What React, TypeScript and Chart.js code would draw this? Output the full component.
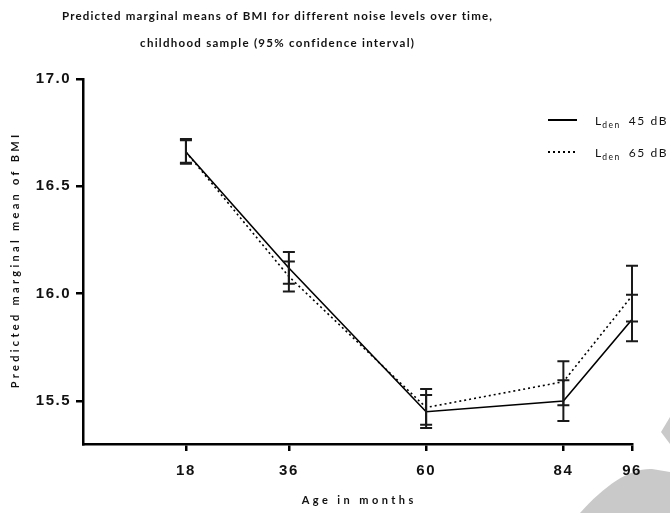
import React, { useEffect, useRef } from 'react';
import { Chart, registerables } from 'chart.js';

Chart.register(...registerables);

const ages = [18, 36, 60, 84, 96];
const xTicks = [18, 36, 60, 84, 96];
const yTicks = [15.5, 16.0, 16.5, 17.0];
const seriesNames = ['45 dB', '65 dB'];
const mean45 = [16.66, 16.12, 15.45, 15.5, 15.88];
const lower45 = [16.605, 16.046, 15.375, 15.407, 15.778];
const upper45 = [16.715, 16.194, 15.528, 15.597, 15.995];
const mean65 = [16.66, 16.08, 15.47, 15.59, 15.99];
const lower65 = [16.61, 16.01, 15.39, 15.48, 15.87];
const upper65 = [16.72, 16.15, 15.556, 15.685, 16.13];
const titleLines = [
  'Predicted marginal means of BMI for different noise levels over time,',
  'childhood sample (95% confidence interval)',
];
const xTitle = 'Age in months';
const yTitle = 'Predicted marginal mean of BMI';

const ciLower = [lower45, lower65];
const ciUpper = [upper45, upper65];

function spacedText(ctx: CanvasRenderingContext2D, text: string, x: number, y: number, target: number) {
  (ctx as any).letterSpacing = '0px';
  const w = ctx.measureText(text).width;
  const ls = (target - w) / text.length;
  (ctx as any).letterSpacing = ls + 'px';
  ctx.textAlign = 'center';
  ctx.fillText(text, x + ls / 2, y);
}

const decoPlugin = {
  id: 'deco',
  beforeLayout(chart: any) {
    chart.ctx.letterSpacing = '1.5px';
  },
  beforeDraw(chart: any) {
    const ctx = chart.ctx as CanvasRenderingContext2D;
    ctx.save();
    ctx.fillStyle = '#c9c9c9';
    ctx.beginPath();
    ctx.moveTo(580, 513);
    ctx.bezierCurveTo(605, 485, 630, 468, 652, 469);
    ctx.lineTo(670, 472);
    ctx.lineTo(670, 513);
    ctx.closePath();
    ctx.fill();
    ctx.beginPath();
    ctx.moveTo(661, 432);
    ctx.lineTo(670, 417);
    ctx.lineTo(670, 444);
    ctx.closePath();
    ctx.fill();
    ctx.restore();
    (ctx as any).letterSpacing = '1.5px';
  },
};

const errorBarPlugin = {
  id: 'errbars',
  afterDatasetsDraw(chart: any) {
    const ctx = chart.ctx as CanvasRenderingContext2D;
    const xs = chart.scales.x;
    const ys = chart.scales.y;
    ctx.save();
    ctx.strokeStyle = '#1a1a1a';
    ctx.lineWidth = 2;
    for (let d = 0; d < ciLower.length; d++) {
      for (let j = 0; j < ages.length; j++) {
        const x = xs.getPixelForValue(ages[j]);
        const yl = ys.getPixelForValue(ciLower[d][j]);
        const yu = ys.getPixelForValue(ciUpper[d][j]);
        ctx.beginPath();
        ctx.moveTo(x, yl);
        ctx.lineTo(x, yu);
        ctx.moveTo(x - 6, yl);
        ctx.lineTo(x + 6, yl);
        ctx.moveTo(x - 6, yu);
        ctx.lineTo(x + 6, yu);
        ctx.stroke();
      }
    }
    ctx.restore();
  },
  afterDraw(chart: any) {
    const ctx = chart.ctx as CanvasRenderingContext2D;
    const area = chart.chartArea;
    ctx.save();
    ctx.fillStyle = '#111';
    ctx.textBaseline = 'middle';
    // main title
    ctx.font = 'bold 11.5px Lato';
    spacedText(ctx, titleLines[0], 277, 16, 431);
    spacedText(ctx, titleLines[1], 277, 43, 275);
    // x title
    ctx.font = 'bold 11px Lato';
    spacedText(ctx, xTitle, (area.left + area.right) / 2, 500, 115);
    // y title
    ctx.save();
    ctx.translate(15, (area.top + area.bottom) / 2);
    ctx.rotate(-Math.PI / 2);
    spacedText(ctx, yTitle, 0, 0, 257);
    ctx.restore();
    // legend
    chart.data.datasets.forEach((ds: any, i: number) => {
      const y = 120 + i * 32;
      ctx.save();
      ctx.strokeStyle = ds.borderColor;
      ctx.lineWidth = 2;
      ctx.setLineDash(ds.borderDash || []);
      ctx.beginPath();
      ctx.moveTo(548, y);
      ctx.lineTo(577, y);
      ctx.stroke();
      ctx.restore();
      ctx.textAlign = 'left';
      let x = 595;
      ctx.font = '12px Lato';
      (ctx as any).letterSpacing = '1px';
      ctx.fillText('L', x, y + 1);
      x += ctx.measureText('L').width;
      ctx.font = '8.5px Lato';
      (ctx as any).letterSpacing = '1.5px';
      ctx.fillText('den', x, y + 5);
      x += ctx.measureText('den').width + 8;
      ctx.font = '12px Lato';
      (ctx as any).letterSpacing = '1.6px';
      ctx.fillText(seriesNames[i], x, y + 1);
    });
    ctx.restore();
  },
};

export default function App() {
  const ref = useRef<HTMLCanvasElement>(null);
  useEffect(() => {
    document.body.style.margin = '0';
    const canvas = ref.current!;
    const chart = new Chart(canvas, {
      type: 'line',
      data: {
        datasets: [
          {
            label: 'Lden ' + seriesNames[0],
            data: ages.map((a, i) => ({ x: a, y: mean45[i] })),
            borderColor: '#000',
            borderWidth: 1.6,
            pointRadius: 0,
            fill: false,
            tension: 0,
          },
          {
            label: 'Lden ' + seriesNames[1],
            data: ages.map((a, i) => ({ x: a, y: mean65[i] })),
            borderColor: '#000',
            borderWidth: 1.6,
            borderDash: [2, 3],
            pointRadius: 0,
            fill: false,
            tension: 0,
          },
        ],
      },
      options: {
        responsive: false,
        animation: false,
        devicePixelRatio: window.devicePixelRatio || 1,
        layout: { padding: { top: 79, right: 38, left: 0, bottom: 0 } },
        plugins: {
          legend: { display: false },
          title: { display: false },
          tooltip: { enabled: false },
        },
        scales: {
          x: {
            type: 'linear',
            min: 0,
            max: 96,
            afterBuildTicks: (s: any) => {
              s.ticks = xTicks.map((v) => ({ value: v }));
            },
            afterFit: (s: any) => {
              s.height = 69;
            },
            border: { display: true, color: '#000', width: 2.5 },
            grid: {
              drawOnChartArea: false,
              drawTicks: true,
              tickLength: 7,
              color: '#000',
              lineWidth: 2.5,
            },
            ticks: {
              color: '#111',
              padding: 11,
              font: { family: 'Liberation Sans', weight: 'bold', size: 15 },
              callback: (v: any) => String(v),
              maxRotation: 0,
            },
          },
          y: {
            type: 'linear',
            min: 15.3,
            max: 17.0,
            afterBuildTicks: (s: any) => {
              s.ticks = yTicks.map((v) => ({ value: v }));
            },
            afterFit: (s: any) => {
              s.width = 83;
            },
            border: { display: true, color: '#000', width: 2.5 },
            grid: {
              drawOnChartArea: false,
              drawTicks: true,
              tickLength: 7,
              color: '#000',
              lineWidth: 2.5,
            },
            ticks: {
              color: '#111',
              padding: 5,
              font: { family: 'Liberation Sans', weight: 'bold', size: 15 },
              callback: (v: any) => Number(v).toFixed(1),
            },
          },
        },
      },
      plugins: [decoPlugin, errorBarPlugin],
    });
    return () => chart.destroy();
  }, []);
  return (
    <div style={{ width: 670, height: 513, background: '#fff' }}>
      <canvas ref={ref} width={670} height={513} style={{ display: 'block' }} />
    </div>
  );
}
